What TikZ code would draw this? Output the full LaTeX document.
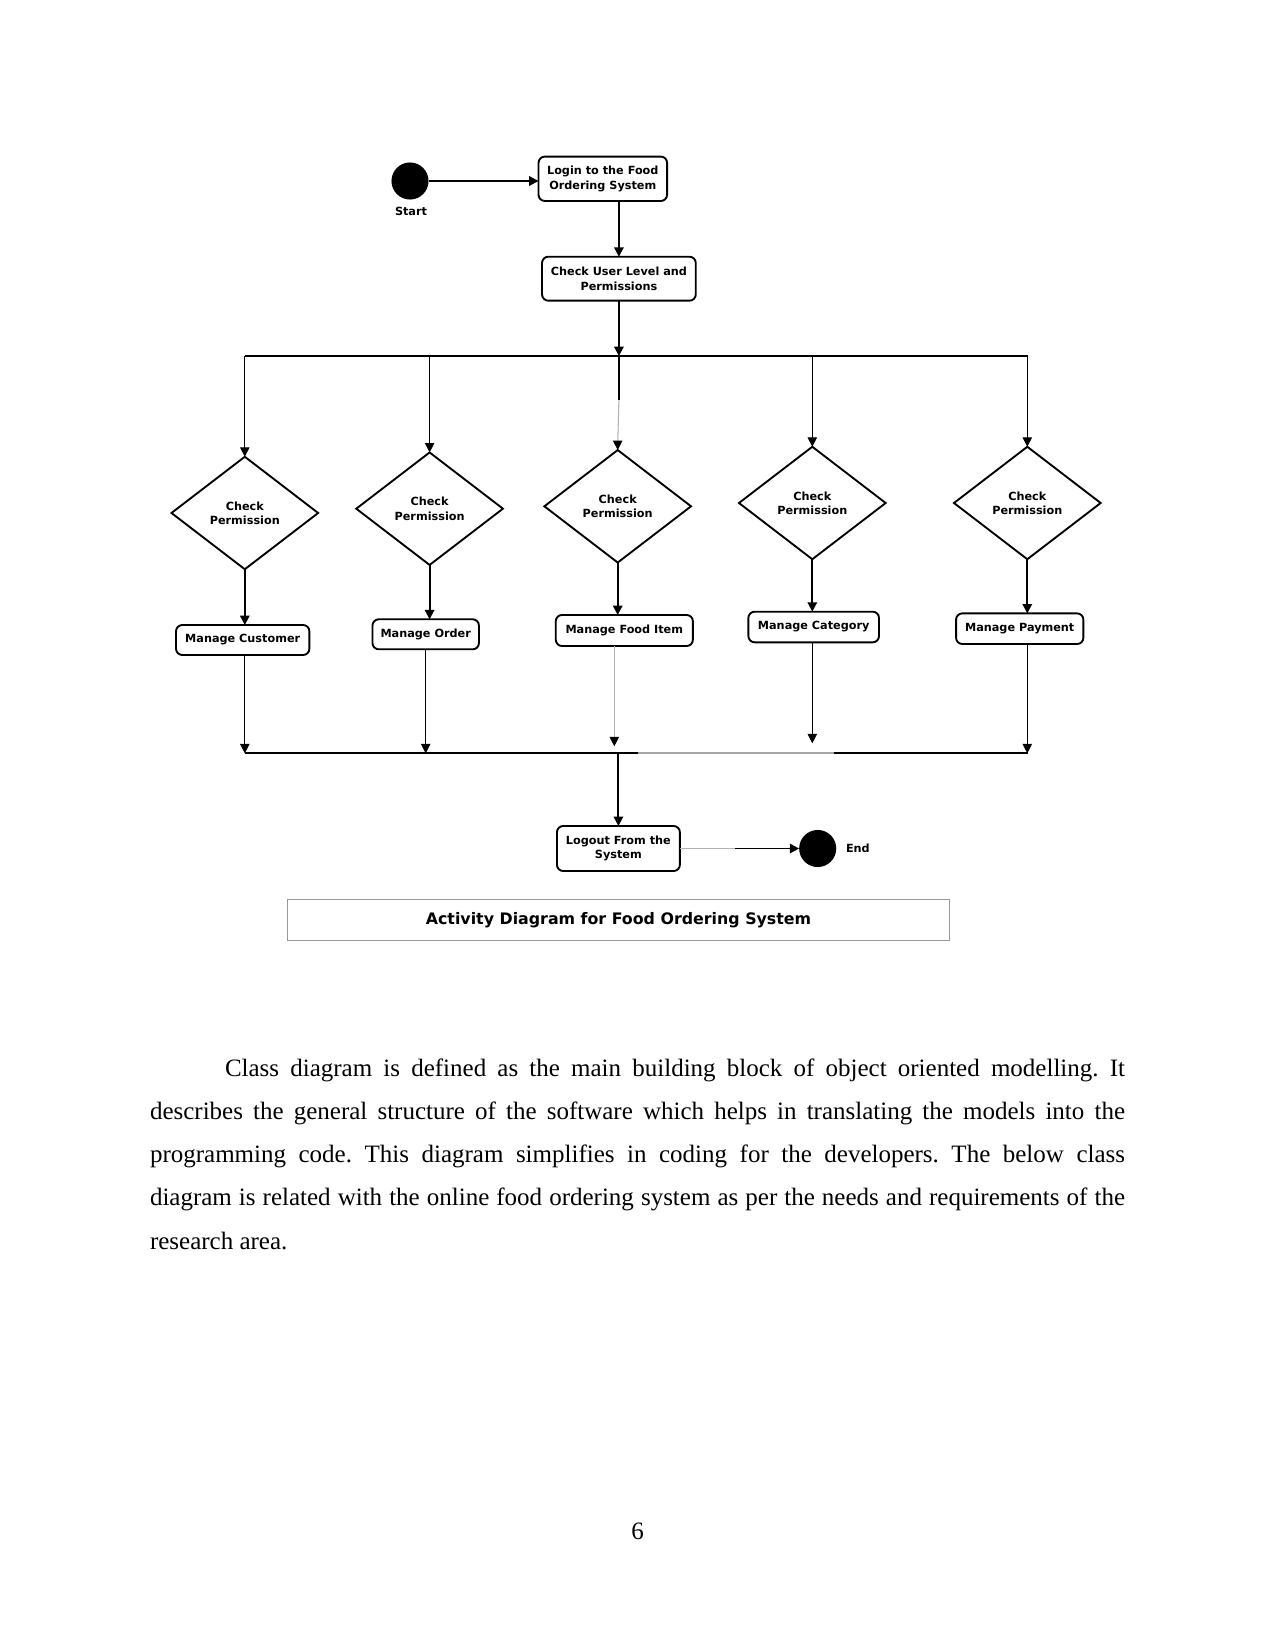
\documentclass[tikz,border=0pt]{standalone}
\usepackage{fontspec}
\setmainfont{Liberation Serif}
\newfontfamily\diafont{DejaVu Sans}
\usetikzlibrary{shapes.geometric,arrows.meta,calc}
\frenchspacing
\tikzset{
  diatext/.style={font=\diafont\bfseries\fontsize{5.4pt}{6.9pt}\selectfont},
  act/.style={draw, line width=0.9pt, rounded corners=3pt, align=center, diatext},
  dec/.style={draw, diamond, line width=0.9pt, minimum width=70.4pt, minimum height=54pt, align=center, diatext},
  startdot/.style={circle, fill=black, minimum size=17.8pt},
  thickln/.style={line width=0.9pt, black},
  thinln/.style={line width=0.5pt, black},
  fadeln/.style={line width=0.5pt, black!30},
  arr/.style={-{Triangle[length=4.5pt,width=4.5pt]}},
  bodytext/.style={font=\fontsize{12pt}{14pt}\selectfont, anchor=base west},
}
\begin{document}
\begin{tikzpicture}[x=0.48pt,y=-0.48pt, every node/.style={inner sep=0pt, outer sep=0pt}]
\fill[white] (0,0) rectangle (1275,1650);
\useasboundingbox (0,0) rectangle (1275,1650);

% nodes
\node[startdot] (start) at (410,181) {};
\node[diatext] (startlbl) at (411,211) {Start};
\node[act, minimum width=61.7pt, minimum height=21.3pt] (login) at (602.8,178.8) {Login to the Food\\Ordering System};
\node[act, minimum width=73.8pt, minimum height=21.1pt] (cu) at (618.9,278.7) {Check User Level and\\Permissions};

\node[dec] (d1) at (244.8,513) {Check\\Permission};
\node[dec] (d2) at (429.6,508.7) {Check\\Permission};
\node[dec] (d3) at (617.7,506.3) {Check\\Permission};
\node[dec] (d4) at (812.3,503) {Check\\Permission};
\node[dec] (d5) at (1027.3,503) {Check\\Permission};

\node[act, minimum width=64pt, minimum height=14.4pt] (b1) at (242.7,640) {Manage Customer};
\node[act, minimum width=51.1pt, minimum height=14.4pt] (b2) at (425.7,634.3) {Manage Order};
\node[act, minimum width=65.8pt, minimum height=14.9pt] (b3) at (624.3,630.5) {Manage Food Item};
\node[act, minimum width=62.7pt, minimum height=14.7pt] (b4) at (813.7,627) {Manage Category};
\node[act, minimum width=61.1pt, minimum height=14.7pt] (b5) at (1019.7,628.7) {Manage Payment};

\node[act, minimum width=59pt, minimum height=21.6pt] (lo) at (618.4,848.5) {Logout From the\\System};
\node[startdot] (fin) at (817.7,848.5) {};
\node[diatext, anchor=west] (finlbl) at (846,848.5) {End};

\node[draw=black!40, line width=0.7pt, minimum width=318pt, minimum height=19.9pt,
      font=\diafont\bfseries\fontsize{7.6pt}{9pt}\selectfont] (title) at (618.5,920) {Activity Diagram for Food Ordering System};

% coordinates of the bars
\coordinate (barL) at (244.5,356);
\coordinate (barR) at (1027.8,356);
\coordinate (bbL) at (244.5,753.3);
\coordinate (bbG1) at (638,753.3);
\coordinate (bbG2) at (834,753.3);
\coordinate (bbR) at (1028.3,753.3);
\coordinate (midv) at (619,400);
\coordinate (lefade) at (735,848.5);

% connectors
\draw[thickln, arr] (start.east) -- (start.east -| login.west);
\draw[thickln, arr] (cu.north |- login.south) -- (cu.north);
\draw[thickln, arr] (cu.south) -- (cu.south |- barL);
\draw[thickln] (barL) -- (barR);

\draw[thinln, arr] (d1.north |- barL) -- (d1.north);
\draw[thinln, arr] (d2.north |- barL) -- (d2.north);
\draw[thickln] (cu.south |- barL) -- (cu.south |- midv);
\draw[fadeln] (cu.south |- midv) -- ($(d3.north)+(0,-6)$);
\draw[thinln, arr] ($(d3.north)+(0,-6)$) -- (d3.north);
\draw[thinln, arr] (d4.north |- barL) -- (d4.north);
\draw[thinln, arr] (d5.north |- barL) -- (d5.north);

\draw[thickln, arr] (d1.south) -- (d1.south |- b1.north);
\draw[thickln, arr] (d2.south) -- (d2.south |- b2.north);
\draw[thickln, arr] (d3.south) -- (d3.south |- b3.north);
\draw[thickln, arr] (d4.south) -- (d4.south |- b4.north);
\draw[thickln, arr] (d5.south) -- (d5.south |- b5.north);

\draw[thinln, arr] (d1.south |- b1.south) -- (d1.south |- bbL);
\draw[thinln, arr] (b2.south) -- (b2.south |- bbL);
\draw[fadeln] ($(b3.south)+(-10,0)$) -- ($(b3.south |- bbL)+(-10,-13)$);
\draw[thinln, arr] ($(b3.south |- bbL)+(-10,-13)$) -- ($(b3.south |- bbL)+(-10,-7)$);
\draw[thinln, arr] (d4.south |- b4.south) -- ($(d4.south |- bbL)+(0,-10)$);
\draw[thinln, arr] (d5.south |- b5.south) -- (d5.south |- bbL);

\draw[thickln] (bbL) -- (bbG1);
\draw[thickln, black!35] (bbG1) -- (bbG2);
\draw[thickln] (bbG2) -- (bbR);

\draw[thickln, arr] (lo.north |- bbL) -- (lo.north);
\draw[fadeln] (lo.east) -- (lefade);
\draw[thickln, arr] (lefade) -- (fin.west);

% body text
\node[bodytext] (p1) at (225,1076) {\makebox[432pt][s]{Class diagram is defined as the main building block of object oriented modelling. It}};
\node[bodytext] (p2) at (150,1119.3) {\makebox[468pt][s]{describes the general structure of the software which helps in translating the models into the}};
\node[bodytext] (p3) at (150,1162.6) {\makebox[468pt][s]{programming code. This diagram simplifies in coding for the developers. The below class}};
\node[bodytext] (p4) at (150,1205.9) {\makebox[468pt][s]{diagram is related with the online food ordering system as per the needs and requirements of the}};
\node[bodytext] (p5) at (150,1249.2) {research area.};

\node[font=\fontsize{12pt}{14pt}\selectfont, anchor=base] (pageno) at (637.5,1539.3) {6};
\end{tikzpicture}
\end{document}
